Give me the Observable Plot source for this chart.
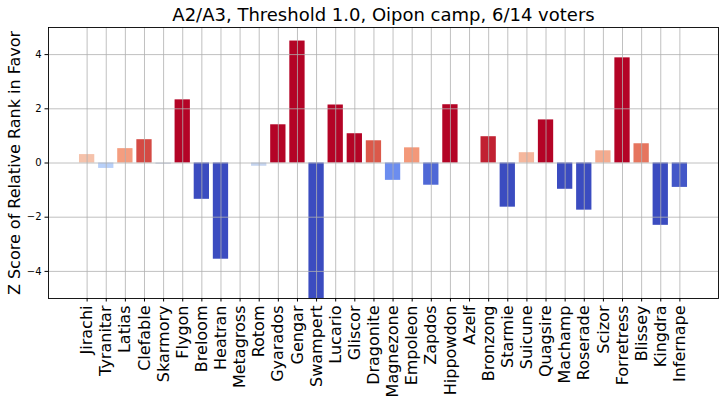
<!DOCTYPE html>
<html>
<head>
<meta charset="utf-8">
<script src="https://cdn.jsdelivr.net/npm/d3@7"></script>
<script src="https://cdn.jsdelivr.net/npm/@observablehq/plot@0.6"></script>
<style>
  html, body { margin: 0; padding: 0; background: white; }
  #chart svg { display: block; }
</style>
</head>
<body>
<div id="chart"></div>
<script>
const title = "A2/A3, Threshold 1.0, Oipon camp, 6/14 voters";
const yLabel = "Z Score of Relative Rank in Favor";

const names = [
  "Jirachi", "Tyranitar", "Latias", "Clefable", "Skarmory", "Flygon", "Breloom", "Heatran",
  "Metagross", "Rotom", "Gyarados", "Gengar", "Swampert", "Lucario", "Gliscor", "Dragonite",
  "Magnezone", "Empoleon", "Zapdos", "Hippowdon", "Azelf", "Bronzong", "Starmie", "Suicune",
  "Quagsire", "Machamp", "Roserade", "Scizor", "Forretress", "Blissey", "Kingdra", "Infernape"
];
const values = [
  0.31, -0.20, 0.53, 0.86, -0.05, 2.33, -1.34, -3.55,
  0.00, -0.12, 1.41, 4.50, -5.50, 2.14, 1.08, 0.82,
  -0.64, 0.56, -0.82, 2.15, 0.00, 0.97, -1.63, 0.38,
  1.59, -0.97, -1.74, 0.45, 3.88, 0.71, -2.30, -0.90
];
const yTicks = [-4, -2, 0, 2, 4];
const coolwarmStops = [0, 0.125, 0.25, 0.375, 0.5, 0.625, 0.75, 0.875, 1];
const coolwarmColors = ["#3b4cc0", "#6282ea", "#8db0fe", "#b8d0f9", "#dddddd", "#f5c4ad", "#f49a7b", "#de604d", "#b40426"];
const colorDomain = [-0.95, 1.05];

const data = names.map((name, i) => ({name, value: values[i]}));
const grid = {stroke: "#b0b0b0", strokeOpacity: 1, strokeWidth: 0.8};

const chart = Plot.plot({
  width: 724,
  height: 405,
  marginLeft: 48,
  marginRight: 6,
  marginTop: 27,
  marginBottom: 107,
  style: {fontFamily: "DejaVu Sans", background: "white", color: "black"},
  x: {type: "band", domain: names, paddingInner: 0.2, paddingOuter: 1.62, align: 0.5, round: false, label: null},
  y: {domain: [-5, 5], label: null},
  color: {
    type: "linear",
    domain: coolwarmStops.map(t => colorDomain[0] + t * (colorDomain[1] - colorDomain[0])),
    range: coolwarmColors,
    interpolate: "rgb",
    clamp: true
  },
  marks: [
    Plot.barY(data, {x: "name", y: "value", fill: "value", clip: true}),
    Plot.gridX(names, grid),
    Plot.gridY(yTicks, grid),
    Plot.frame({stroke: "black", strokeWidth: 0.9}),
    Plot.axisX(names, {tickRotate: -90, fontSize: 16, tickSize: 3.5, tickPadding: 3.5, label: null}),
    Plot.axisY(yTicks, {fontSize: 10, tickSize: 3.5, tickPadding: 3.5, label: null}),
    Plot.text([yLabel], {text: d => d, frameAnchor: "left", textAnchor: "middle", lineAnchor: "middle", rotate: -90, dx: -34, fontSize: 16}),
    Plot.text([title], {text: d => d, frameAnchor: "top", lineAnchor: "middle", dy: -12, fontSize: 18})
  ]
});
document.getElementById("chart").appendChild(chart);
</script>
</body>
</html>
